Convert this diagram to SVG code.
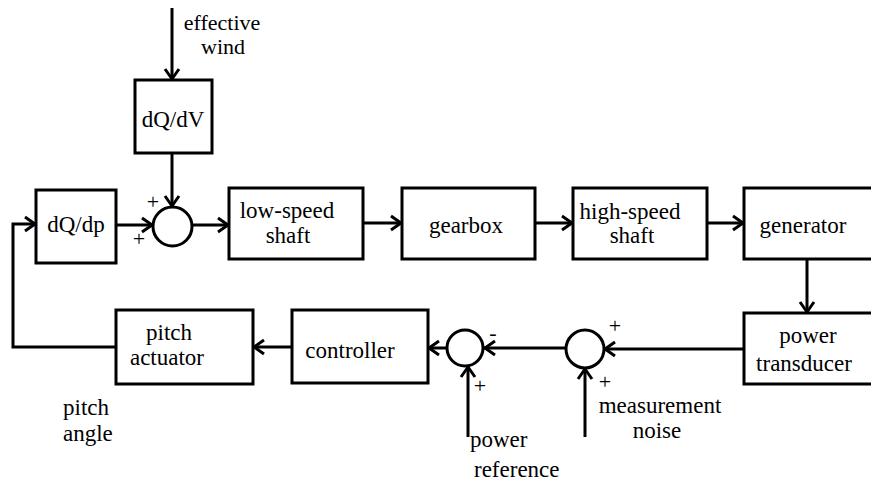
<svg xmlns="http://www.w3.org/2000/svg" width="871" height="486" viewBox="0 0 871 486">
<defs>
<style>
.box{fill:#fff;stroke:#000;stroke-width:3}
.sum{fill:#fff;stroke:#000;stroke-width:3}
.ln{fill:none;stroke:#000;stroke-width:3}
text{font-family:'Liberation Serif','DejaVu Serif','Times New Roman',serif;fill:#000}
.t{font-size:23px}
.c{text-anchor:middle}
.s{font-size:22px;text-anchor:middle}
</style>
<marker id="ah" markerUnits="userSpaceOnUse" markerWidth="18" markerHeight="18" viewBox="-15 -9 18 18" refX="0" refY="0" orient="auto" overflow="visible">
<path d="M-11,-7 L-1,0 L-11,7" fill="none" stroke="#000" stroke-width="3"/>
</marker>
</defs>
<rect width="871" height="486" fill="#fff"/>
<g id="connectors">
<line class="ln" x1="172" y1="8" x2="172" y2="80" marker-end="url(#ah)"/>
<line class="ln" x1="172" y1="153" x2="172" y2="207" marker-end="url(#ah)"/>
<line class="ln" x1="116" y1="225" x2="153" y2="225" marker-end="url(#ah)"/>
<line class="ln" x1="192" y1="225" x2="229" y2="225" marker-end="url(#ah)"/>
<line class="ln" x1="363" y1="223" x2="402" y2="223" marker-end="url(#ah)"/>
<line class="ln" x1="535" y1="223" x2="573" y2="223" marker-end="url(#ah)"/>
<line class="ln" x1="707" y1="223" x2="744" y2="223" marker-end="url(#ah)"/>
<line class="ln" x1="807" y1="259" x2="807" y2="313" marker-end="url(#ah)"/>
<line class="ln" x1="744" y1="349" x2="604" y2="349" marker-end="url(#ah)"/>
<line class="ln" x1="585" y1="437" x2="585" y2="368" marker-end="url(#ah)"/>
<line class="ln" x1="566" y1="348" x2="484" y2="348" marker-end="url(#ah)"/>
<line class="ln" x1="468" y1="437" x2="468" y2="366" marker-end="url(#ah)"/>
<line class="ln" x1="447" y1="348" x2="428" y2="348" marker-end="url(#ah)"/>
<line class="ln" x1="292" y1="347" x2="253" y2="347" marker-end="url(#ah)"/>
<polyline class="ln" points="116,347 13,347 13,224 36,224" marker-end="url(#ah)"/>
</g>
<g id="dQdV">
<rect class="box" x="135" y="80" width="77" height="73"/>
<text class="t c" x="173" y="127">dQ/dV</text>
</g>
<g id="dQdp">
<rect class="box" x="36" y="190" width="80" height="73"/>
<text class="t c" x="76" y="232">dQ/dp</text>
</g>
<g id="sum1">
<circle class="sum" cx="172.5" cy="226.5" r="19.5"/>
<text class="s" x="153" y="209">+</text>
<text class="s" x="139" y="246">+</text>
</g>
<g id="lowspeed">
<rect class="box" x="229" y="188" width="134" height="71"/>
<text class="t c" x="287" y="218">low-speed</text>
<text class="t c" x="288" y="243">shaft</text>
</g>
<g id="gearbox">
<rect class="box" x="402" y="188" width="133" height="71"/>
<text class="t c" x="466" y="233">gearbox</text>
</g>
<g id="highspeed">
<rect class="box" x="573" y="188" width="134" height="71"/>
<text class="t c" x="630" y="219">high-speed</text>
<text class="t c" x="632" y="243">shaft</text>
</g>
<g id="generator">
<rect class="box" x="744" y="188" width="140" height="71"/>
<text class="t c" x="803" y="233">generator</text>
</g>
<g id="transducer">
<rect class="box" x="744" y="313" width="140" height="71"/>
<text class="t c" x="808" y="343">power</text>
<text class="t c" x="804" y="371">transducer</text>
</g>
<g id="sum3">
<circle class="sum" cx="585" cy="349" r="19"/>
<text class="s" x="615" y="333">+</text>
<text class="s" x="605" y="389">+</text>
</g>
<g id="sum2">
<circle class="sum" cx="465" cy="348" r="18"/>
<text class="s" x="493" y="340">-</text>
<text class="s" x="480" y="393">+</text>
</g>
<g id="controller">
<rect class="box" x="292" y="310" width="136" height="73"/>
<text class="t c" x="350" y="358">controller</text>
</g>
<g id="actuator">
<rect class="box" x="116" y="310" width="137" height="74"/>
<text class="t c" x="169" y="340">pitch</text>
<text class="t c" x="167" y="365">actuator</text>
</g>
<g id="labels">
<text class="c" x="222" y="29.5" font-size="22">effective</text>
<text class="c" x="223" y="54" font-size="22">wind</text>
<text class="t" x="63" y="415">pitch</text>
<text class="t" x="63" y="441">angle</text>
<text class="t" x="470" y="447">power</text>
<text class="t" x="474" y="477">reference</text>
<text class="t c" x="660" y="413">measurement</text>
<text class="t c" x="657" y="438">noise</text>
</g>
</svg>
